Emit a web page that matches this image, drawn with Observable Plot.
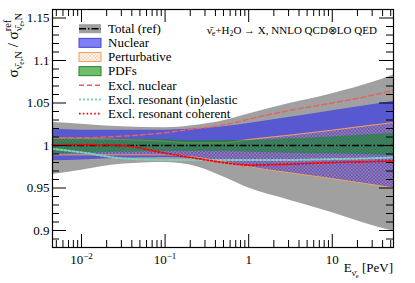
<!DOCTYPE html>
<html><head><meta charset="utf-8">
<script src="https://cdn.jsdelivr.net/npm/d3@7"></script>
<script src="https://cdn.jsdelivr.net/npm/@observablehq/plot@0.6"></script>
<style>body{margin:0;background:#fff}</style>
</head><body><div id="chart"></div>
<script>
// ---- data ----
const energy      = [0.0045, 0.01, 0.03, 0.1, 0.2, 0.5, 1, 3, 10, 30, 54];
const totalLo     = [0.966, 0.971, 0.978, 0.980, 0.977, 0.963, 0.950, 0.936, 0.921, 0.906, 0.899];
const totalHi     = [1.027, 1.025, 1.022, 1.021, 1.023, 1.029, 1.037, 1.049, 1.061, 1.074, 1.083];
const nuclearLo   = [0.982, 0.983, 0.985, 0.986, 0.985, 0.980, 0.974, 0.968, 0.961, 0.954, 0.950];
const nuclearHi   = [1.019, 1.018, 1.018, 1.018, 1.019, 1.022, 1.026, 1.033, 1.041, 1.048, 1.052];
const pertLo      = [0.989, 0.989, 0.989, 0.989, 0.987, 0.981, 0.975, 0.968, 0.961, 0.954, 0.950];
const pertHi      = [1.009, 1.008, 1.007, 1.005, 1.003, 1.003, 1.007, 1.012, 1.018, 1.024, 1.027];
const pdfLo       = [0.990, 0.991, 0.992, 0.993, 0.993, 0.993, 0.992, 0.991, 0.990, 0.989, 0.988];
const pdfHi       = [1.008, 1.008, 1.007, 1.007, 1.006, 1.006, 1.006, 1.008, 1.010, 1.013, 1.014];
const exclNuclear = [1.009, 1.009, 1.011, 1.015, 1.019, 1.024, 1.031, 1.041, 1.050, 1.059, 1.065];
const exclResInel = [0.996, 0.992, 0.985, 0.983, 0.983, 0.983, 0.983, 0.983, 0.984, 0.985, 0.986];
const exclResCoh  = [1.001, 1.001, 1.000, 0.991, 0.986, 0.980, 0.977, 0.978, 0.980, 0.981, 0.982];
const reference   = [1];

const xTickValues = [0.01, 0.1, 1, 10];
const yTickValues = [0.9, 0.95, 1, 1.05, 1.1, 1.15];
const legendLabels = ["Total (ref)", "Nuclear", "Perturbative", "PDFs",
  "Excl. nuclear", "Excl. resonant (in)elastic", "Excl. resonant coherent"];

const xDomain = [0.0045, 54];
const yDomain = [0.88, 1.16];

const rows = energy.map((e, i) => ({
  e, totalLo: totalLo[i], totalHi: totalHi[i], nuclearLo: nuclearLo[i], nuclearHi: nuclearHi[i],
  pertLo: pertLo[i], pertHi: pertHi[i], pdfLo: pdfLo[i], pdfHi: pdfHi[i],
  exclNuclear: exclNuclear[i], exclResInel: exclResInel[i], exclResCoh: exclResCoh[i]
}));

const xMinor = [];
for (let p = -3; p <= 1; p++) for (let k = 2; k <= 9; k++) {
  const v = +(k * Math.pow(10, p)).toPrecision(6);
  if (v >= xDomain[0] && v <= xDomain[1]) xMinor.push(v);
}
const yMajor = d3.range(88, 117).filter(v => v % 5 === 0).map(v => v / 100);
const yMinor = d3.range(88, 117).filter(v => v % 5 !== 0).map(v => v / 100);

const W = 415, H = 283, mL = 52, mR = 22, mT = 9, mB = 36;
const pw = W - mL - mR, ph = H - mT - mB;
const curve = "monotone-x";
const serif = "'Liberation Serif', serif";

const C = {
  gray: "#a0a0a0", blue: "rgb(40,40,240)", green: "rgb(10,140,30)", orange: "#f0a060",
  exclNuc: "#e06464", inel: "#7fd2b8", coh: "#ff0000"
};
const dashRef = "7,2,1.5,2", dashNuc = "5,3", dashInel = "2,2", dashCoh = "1.6,2.2";

const plot = Plot.plot({
  width: W, height: H, marginLeft: mL, marginRight: mR, marginTop: mT, marginBottom: mB,
  style: {fontFamily: serif, fontSize: "13px", background: "white", color: "black"},
  x: {type: "log", domain: xDomain},
  y: {domain: yDomain},
  marks: [
    Plot.areaY(rows, {x: "e", y1: "totalLo", y2: "totalHi", fill: C.gray, curve}),
    Plot.areaY(rows, {x: "e", y1: "nuclearLo", y2: "nuclearHi", fill: C.blue, fillOpacity: 0.6, curve}),
    Plot.areaY(rows, {x: "e", y1: "pertLo", y2: "pertHi", fill: "url(#hatch)", curve}),
    Plot.lineY(rows, {x: "e", y: "pertLo", stroke: C.orange, strokeWidth: 1, curve}),
    Plot.lineY(rows, {x: "e", y: "pertHi", stroke: C.orange, strokeWidth: 1, curve}),
    Plot.areaY(rows, {x: "e", y1: "pdfLo", y2: "pdfHi", fill: C.green, fillOpacity: 0.58, curve}),
    Plot.ruleY(reference, {stroke: "black", strokeWidth: 1.5, strokeDasharray: dashRef}),
    Plot.lineY(rows, {x: "e", y: "exclNuclear", stroke: C.exclNuc, strokeWidth: 1.5, strokeDasharray: dashNuc, curve}),
    Plot.lineY(rows, {x: "e", y: "exclResInel", stroke: C.inel, strokeWidth: 2, strokeDasharray: dashInel, curve}),
    Plot.lineY(rows, {x: "e", y: "exclResCoh", stroke: C.coh, strokeWidth: 1.8, strokeDasharray: dashCoh, curve}),
    // inward ticks (ROOT style) on all four sides
    Plot.ruleX(xTickValues, {x: d => d, insetTop: ph - 13, stroke: "black"}),
    Plot.ruleX(xMinor, {x: d => d, insetTop: ph - 7, stroke: "black"}),
    Plot.ruleX(xTickValues, {x: d => d, insetBottom: ph - 13, stroke: "black"}),
    Plot.ruleX(xMinor, {x: d => d, insetBottom: ph - 7, stroke: "black"}),
    Plot.ruleY(yMajor, {y: d => d, insetRight: pw - 14, stroke: "black"}),
    Plot.ruleY(yMinor, {y: d => d, insetRight: pw - 7, stroke: "black"}),
    Plot.ruleY(yMajor, {y: d => d, insetLeft: pw - 14, stroke: "black"}),
    Plot.ruleY(yMinor, {y: d => d, insetLeft: pw - 7, stroke: "black"}),
    Plot.frame({stroke: "black", strokeWidth: 1.2}),
    Plot.axisX({ticks: xTickValues, tickSize: 0, tickPadding: 7, label: null,
      tickFormat: d => d < 1 ? `10^${Math.round(Math.log10(d))}` : String(d)}),
    Plot.axisY({ticks: yTickValues, tickSize: 0, tickPadding: 3, label: null, tickFormat: d => String(d)})
  ]
});
document.getElementById("chart").appendChild(plot);
const svg = d3.select(plot);

// hatch pattern
const defs = svg.insert("defs", ":first-child");
defs.append("pattern").attr("id", "hatch").attr("patternUnits", "userSpaceOnUse")
  .attr("width", 3.4).attr("height", 3.4)
  .append("path").attr("d", "M0,0L3.4,3.4M3.4,0L0,3.4")
  .attr("stroke", C.orange).attr("stroke-width", 0.5).attr("stroke-opacity", 0.85).attr("fill", "none");

// superscript exponents on x tick labels
svg.selectAll('g[aria-label="x-axis tick label"] text').each(function () {
  const t = this.textContent;
  if (t.includes("^")) {
    const [b, ex] = t.split("^");
    const s = d3.select(this);
    s.text(b);
    s.append("tspan").attr("dy", "-0.55em").attr("font-size", "9px").text(ex.replace("-", "\u2212"));
  }
});
svg.selectAll("text").attr("font-family", serif);

// rich text helper: runs of {t, s (size factor), b (baseline shift in base em), stack}
function rich(textSel, runs, base) {
  let prev = 0, lastLen = 0;
  runs.forEach(r => {
    const ts = textSel.append("tspan").attr("font-size", (base * (r.s || 1)) + "px")
      .attr("dy", ((r.b || 0) - prev) * base).text(r.t);
    if (r.stack) ts.attr("dx", -lastLen);
    prev = r.b || 0;
    lastLen = ts.node().getComputedTextLength();
  });
  return textSel;
}
const nub = "\u03BD\u0304";

// y title
rich(svg.append("text").attr("font-family", serif).attr("text-anchor", "end")
  .attr("transform", "translate(17.5,13) rotate(-90)"), [
  {t: "\u03C3"}, {t: nub, s: 0.7, b: 0.3}, {t: "e", s: 0.5, b: 0.45}, {t: ",N", s: 0.7, b: 0.3},
  {t: " / \u03C3", b: 0}, {t: "ref", s: 0.7, b: -0.42},
  {t: nub, s: 0.7, b: 0.3, stack: true}, {t: "e", s: 0.5, b: 0.45}, {t: ",N", s: 0.7, b: 0.3}
], 15);

// x title
rich(svg.append("text").attr("font-family", serif).attr("text-anchor", "end")
  .attr("x", 393).attr("y", 272), [
  {t: "E"}, {t: nub, s: 0.7, b: 0.3}, {t: "e", s: 0.5, b: 0.45}, {t: " [PeV]", b: 0}
], 13);

// annotation
rich(svg.append("text").attr("font-family", serif).attr("text-anchor", "start")
  .attr("x", 207).attr("y", 33.5), [
  {t: nub}, {t: "e", s: 0.7, b: 0.25}, {t: "+H", b: 0}, {t: "2", s: 0.7, b: 0.25},
  {t: "O \u2192 X, NNLO QCD\u2297LO QED", b: 0}
], 11);

// legend
const leg = svg.append("g").attr("font-family", serif).attr("font-size", 13).attr("text-anchor", "start");
legendLabels.forEach((lab, i) => {
  const yb = 33 + i * 14.15, cy = yb - 4.3, x0 = 79, x1 = 101;
  const box = () => leg.append("rect").attr("x", x0).attr("y", cy - 4.5).attr("width", x1 - x0).attr("height", 9);
  const ln = (col, w, dash) => leg.append("line").attr("x1", x0).attr("x2", x1).attr("y1", cy).attr("y2", cy)
    .attr("stroke", col).attr("stroke-width", w).attr("stroke-dasharray", dash);
  if (i === 0) { box().attr("fill", C.gray); ln("black", 1.5, dashRef); }
  if (i === 1) { box().attr("fill", C.blue).attr("fill-opacity", 0.6).attr("stroke", "rgb(70,70,210)"); }
  if (i === 2) { box().attr("fill", "white"); box().attr("fill", "url(#hatch)").attr("stroke", C.orange); }
  if (i === 3) { box().attr("fill", "rgb(60,170,60)").attr("fill-opacity", 0.75).attr("stroke", "rgb(40,130,40)"); }
  if (i === 4) ln(C.exclNuc, 1.5, dashNuc);
  if (i === 5) ln(C.inel, 2, dashInel);
  if (i === 6) ln(C.coh, 1.8, dashCoh);
  leg.append("text").attr("x", 108).attr("y", yb).attr("font-family", serif).text(lab);
});
</script>
</body></html>
